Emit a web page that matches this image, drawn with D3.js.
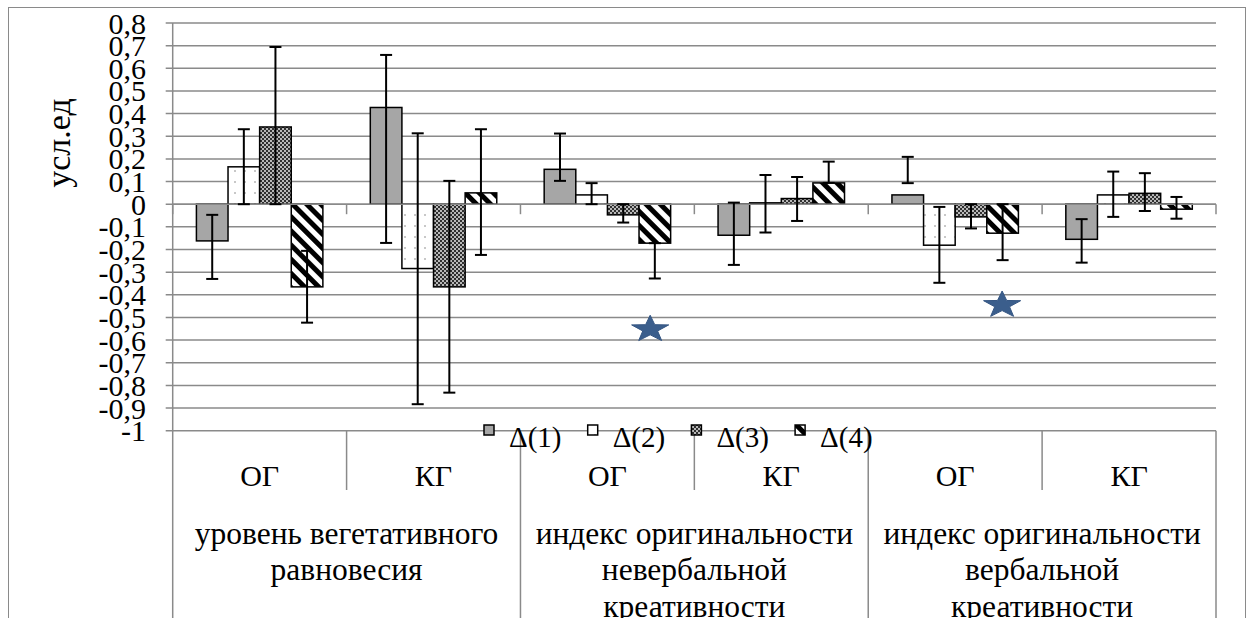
<!DOCTYPE html>
<html>
<head>
<meta charset="utf-8">
<script src="https://d3js.org/d3.v7.min.js"></script>
<style>
  body { margin: 0; background: #fff; }
  svg { display: block; }
</style>
</head>
<body>
<svg id="chart" width="1251" height="618" style="font-family: 'Liberation Serif', 'DejaVu Serif', serif;"></svg>
<script>
// ---------- data ----------
const subCategories = ["ОГ", "КГ", "ОГ", "КГ", "ОГ", "КГ"];
const groupLabels = [
  ["уровень вегетативного", "равновесия"],
  ["индекс оригинальности", "невербальной", "креативности"],
  ["индекс оригинальности", "вербальной", "креативности"]
];
const seriesNames = ["Δ(1)", "Δ(2)", "Δ(3)", "Δ(4)"];

const delta1 = [-0.162, 0.427, 0.154, -0.137, 0.041, -0.155];
const delta2 = [0.165, -0.284, 0.041, 0.006, -0.181, 0.041];
const delta3 = [0.341, -0.365, -0.047, 0.025, -0.056, 0.048];
const delta4 = [-0.365, 0.050, -0.172, 0.094, -0.128, -0.022];

// error bar ends (upper / lower)
const delta1Hi = [-0.047, 0.659, 0.312, 0.007, 0.209, -0.066];
const delta1Lo = [-0.330, -0.171, 0.103, -0.268, 0.093, -0.258];
const delta2Hi = [0.331, 0.313, 0.093, 0.129, -0.012, 0.144];
const delta2Lo = [0.000, -0.883, 0.000, -0.125, -0.347, -0.056];
const delta3Hi = [0.694, 0.103, 0.000, 0.120, 0.000, 0.137];
const delta3Lo = [0.000, -0.832, -0.081, -0.074, -0.107, -0.030];
const delta4Hi = [-0.206, 0.331, -0.172, 0.188, 0.000, 0.032];
const delta4Lo = [-0.523, -0.224, -0.328, 0.094, -0.247, -0.064];

const yTicks = [0.8, 0.7, 0.6, 0.5, 0.4, 0.3, 0.2, 0.1, 0, -0.1, -0.2, -0.3, -0.4, -0.5, -0.6, -0.7, -0.8, -0.9, -1];
const yTickLabels = ["0,8", "0,7", "0,6", "0,5", "0,4", "0,3", "0,2", "0,1", "0", "-0,1", "-0,2", "-0,3", "-0,4", "-0,5", "-0,6", "-0,7", "-0,8", "-0,9", "-1"];
const yTitle = "усл.ед";

// significance stars (position in category units, value)
const starPos = [2.746, 4.77];
const starVal = [-0.552, -0.445];

// ---------- build ----------
const values = [delta1, delta2, delta3, delta4];
const his = [delta1Hi, delta2Hi, delta3Hi, delta4Hi];
const los = [delta1Lo, delta2Lo, delta3Lo, delta4Lo];

const FONT = "'Liberation Serif', 'DejaVu Serif', serif";
const svg = d3.select("#chart");
const W = 1251, H = 618;
const plotL = 172.7, plotR = 1216, plotT = 23, plotB = 430.7;
const gridColor = "#8a8a8a";

const y = d3.scaleLinear().domain([-1, 0.8]).range([plotB, plotT]);
const x0 = d3.scaleBand().domain(d3.range(subCategories.length)).range([plotL, plotR]).padding(0);
const x1 = d3.scaleBand().domain(d3.range(seriesNames.length)).range([0, x0.bandwidth()])
  .paddingInner(0).paddingOuter(0.75);
const xc = d3.scaleLinear().domain([0, subCategories.length]).range([plotL, plotR]);

// patterns
const defs = svg.append("defs");
const p2 = defs.append("pattern").attr("id", "pat2").attr("patternUnits", "userSpaceOnUse")
  .attr("width", 10).attr("height", 11);
p2.append("rect").attr("width", 10).attr("height", 11).attr("fill", "#fff");
p2.append("rect").attr("x", 4).attr("y", 5).attr("width", 2).attr("height", 2).attr("fill", "#c8c8c8");

const p3 = defs.append("pattern").attr("id", "pat3").attr("patternUnits", "userSpaceOnUse")
  .attr("width", 4).attr("height", 4);
p3.append("rect").attr("width", 4).attr("height", 4).attr("fill", "#b8b8b8");
p3.append("rect").attr("x", 0).attr("y", 0).attr("width", 2).attr("height", 2).attr("fill", "#303030");
p3.append("rect").attr("x", 2).attr("y", 2).attr("width", 2).attr("height", 2).attr("fill", "#303030");

const p4 = defs.append("pattern").attr("id", "pat4").attr("patternUnits", "userSpaceOnUse")
  .attr("width", 10).attr("height", 10).attr("patternTransform", "rotate(-45)");
p4.append("rect").attr("width", 10).attr("height", 10).attr("fill", "#fff");
p4.append("rect").attr("x", 0).attr("y", 0).attr("width", 5).attr("height", 10).attr("fill", "#000");

const fills = ["#a6a6a6", "url(#pat2)", "url(#pat3)", "url(#pat4)"];

// outer border
svg.append("rect").attr("x", 8.5).attr("y", 7.5).attr("width", 1237).attr("height", 700)
  .attr("fill", "none").attr("stroke", gridColor).attr("stroke-width", 1);

// gridlines
svg.append("g").selectAll("line").data(yTicks).join("line")
  .attr("x1", plotL - 7).attr("x2", plotR)
  .attr("y1", d => y(d)).attr("y2", d => y(d))
  .attr("stroke", gridColor).attr("stroke-width", 1.5);

// y tick labels
svg.append("g").selectAll("text").data(yTicks).join("text")
  .attr("x", 146).attr("y", d => y(d))
  .attr("text-anchor", "end").attr("dominant-baseline", "central")
  .style("font-family", FONT).style("font-size", "30px")
  .text((d, i) => yTickLabels[i]);

// y title
svg.append("text")
  .attr("transform", `translate(58,143) rotate(-90)`)
  .attr("text-anchor", "middle").attr("dominant-baseline", "central")
  .style("font-family", FONT).style("font-size", "34px").text(yTitle);

// vertical axis line (extends into the label area)
svg.append("line").attr("x1", plotL).attr("x2", plotL).attr("y1", plotT).attr("y2", H)
  .attr("stroke", gridColor).attr("stroke-width", 1.5);

// category separator lines in label area
const bounds = d3.range(1, subCategories.length + 1);
svg.append("g").selectAll("line").data(bounds).join("line")
  .attr("x1", d => xc(d)).attr("x2", d => xc(d))
  .attr("y1", plotB)
  .attr("y2", d => d % 2 === 0 ? H : 490)
  .attr("stroke", gridColor).attr("stroke-width", 1.5);

// zero axis ticks
svg.append("g").selectAll("line").data(d3.range(0, subCategories.length + 1)).join("line")
  .attr("x1", d => xc(d)).attr("x2", d => xc(d))
  .attr("y1", y(0)).attr("y2", y(0) + 10)
  .attr("stroke", gridColor).attr("stroke-width", 1.5);

// bars
const barData = [];
values.forEach((arr, s) => arr.forEach((v, c) => barData.push({ s, c, v, hi: his[s][c], lo: los[s][c] })));

svg.append("g").selectAll("rect").data(barData).join("rect")
  .attr("x", d => x0(d.c) + x1(d.s))
  .attr("width", x1.bandwidth())
  .attr("y", d => y(Math.max(0, d.v)))
  .attr("height", d => Math.abs(y(d.v) - y(0)))
  .attr("fill", d => fills[d.s])
  .attr("stroke", "#000").attr("stroke-width", 1.5);

// zero line
svg.append("line").attr("x1", plotL).attr("x2", plotR).attr("y1", y(0)).attr("y2", y(0))
  .attr("stroke", gridColor).attr("stroke-width", 1.5);

// error bars
const eg = svg.append("g").attr("stroke", "#000").attr("stroke-width", 2);
const cx = d => x0(d.c) + x1(d.s) + x1.bandwidth() / 2;
eg.selectAll("line.v").data(barData).join("line").attr("class", "v")
  .attr("x1", cx).attr("x2", cx).attr("y1", d => y(d.hi)).attr("y2", d => y(d.lo));
eg.selectAll("line.h").data(barData).join("line").attr("class", "h")
  .attr("x1", d => cx(d) - 6).attr("x2", d => cx(d) + 6).attr("y1", d => y(d.hi)).attr("y2", d => y(d.hi));
eg.selectAll("line.l").data(barData).join("line").attr("class", "l")
  .attr("x1", d => cx(d) - 6).attr("x2", d => cx(d) + 6).attr("y1", d => y(d.lo)).attr("y2", d => y(d.lo));

// stars
function starPath(rx, ry) {
  const pts = [];
  for (let i = 0; i < 10; i++) {
    const a = -Math.PI / 2 + i * Math.PI / 5;
    const r = i % 2 === 0 ? 1 : 0.4;
    pts.push([Math.cos(a) * rx * r, Math.sin(a) * ry * r]);
  }
  return "M" + pts.map(p => p.join(",")).join("L") + "Z";
}
svg.append("g").selectAll("path").data(starPos).join("path")
  .attr("d", starPath(19.5, 14))
  .attr("transform", (d, i) => `translate(${xc(d)},${y(starVal[i])})`)
  .attr("fill", "#3b5e8c").attr("stroke", "#355683").attr("stroke-width", 1);

// category labels
svg.append("g").selectAll("text").data(subCategories).join("text")
  .attr("x", (d, i) => x0(i) + x0.bandwidth() / 2).attr("y", 475)
  .attr("text-anchor", "middle").attr("dominant-baseline", "central")
  .style("font-family", FONT).style("font-size", "30px").text(d => d);

// group labels
const gl = svg.append("g");
groupLabels.forEach((lines, g) => {
  const gx = (xc(g * 2) + xc(g * 2 + 2)) / 2;
  lines.forEach((ln, k) => {
    gl.append("text").attr("x", gx).attr("y", 533 + k * 36.5)
      .attr("text-anchor", "middle").attr("dominant-baseline", "central")
      .style("font-family", FONT).style("font-size", "31.5px").text(ln);
  });
});

// legend
const lg = svg.append("g");
seriesNames.forEach((nm, i) => {
  const lx = 484 + i * 103.7;
  lg.append("rect").attr("x", lx).attr("y", 425).attr("width", 10).attr("height", 10)
    .attr("fill", fills[i]).attr("stroke", "#000").attr("stroke-width", 1.5);
  lg.append("text").attr("x", lx + 25).attr("y", 437).attr("dominant-baseline", "central")
    .style("font-family", FONT).style("font-size", "29px").text(nm);
});
</script>
</body>
</html>
